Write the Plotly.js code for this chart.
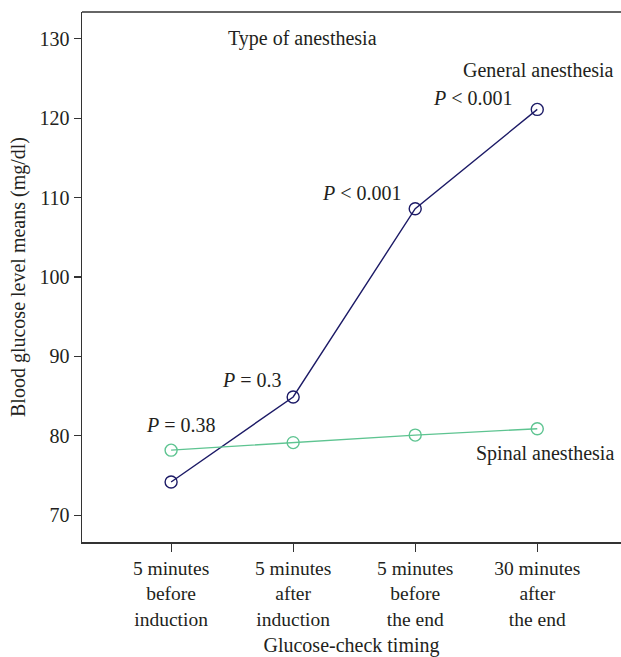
<!DOCTYPE html>
<html>
<head>
<meta charset="utf-8">
<script src="https://cdn.plot.ly/plotly-3.0.1.min.js"></script>
<style>html,body{margin:0;padding:0;overflow:hidden;background:#fff;}</style>
</head>
<body>
<div id="chart" style="width:621px;height:657px;"></div>
<script>
const categories = ["5 minutes<br>before<br>induction", "5 minutes<br>after<br>induction", "5 minutes<br>before<br>the end", "30 minutes<br>after<br>the end"];
const generalValues = [74.2, 84.9, 108.6, 121.1];
const spinalValues = [78.2, 79.15, 80.1, 80.9];
const pLabels = ["<i>P</i> = 0.38", "<i>P</i> = 0.3", "<i>P</i> < 0.001", "<i>P</i> < 0.001"];
const seriesNames = ["General anesthesia", "Spinal anesthesia"];
const yTicks = [70, 80, 90, 100, 110, 120, 130];

const FONT = "Liberation Serif, Times New Roman, serif";
const FS = 20;
const navy = "#1c1a66";
const green = "#5ec491";
const xIdx = categories.map((c, i) => i);

const traces = [
  {x: xIdx, y: generalValues, name: seriesNames[0], mode: "lines+markers",
   line: {color: navy, width: 1.4},
   marker: {symbol: "circle-open", size: 12, color: navy, line: {width: 1.4}}},
  {x: xIdx, y: spinalValues, name: seriesNames[1], mode: "lines+markers",
   line: {color: green, width: 1.4},
   marker: {symbol: "circle-open", size: 12, color: green, line: {width: 1.4}}}
];

// p-label offsets (pixels) relative to each time point
const pAnchor = [spinalValues[0], generalValues[1], generalValues[2], generalValues[3]];
const pShift = [[-27, 25], [-9, 17], [-11, 16], [-22, 11]];
const annotations = pLabels.map((t, i) => ({
  x: xIdx[i], y: pAnchor[i], xref: "x", yref: "y", text: t, showarrow: false,
  xanchor: i === 0 ? "left" : "right", yanchor: "middle",
  xshift: pShift[i][0], yshift: pShift[i][1],
  font: {family: FONT, size: FS, color: "#231f20"}
}));
annotations.push({x: xIdx[3], y: generalValues[3], xref: "x", yref: "y", text: seriesNames[0], showarrow: false,
  xanchor: "right", yanchor: "middle", xshift: 79, yshift: 39, font: {family: FONT, size: FS, color: "#231f20"}});
annotations.push({x: xIdx[3], y: spinalValues[3], xref: "x", yref: "y", text: seriesNames[1], showarrow: false,
  xanchor: "right", yanchor: "middle", xshift: 79, yshift: -25, font: {family: FONT, size: FS, color: "#231f20"}});
annotations.push({x: 0.41, y: 1.0, xref: "paper", yref: "paper", text: "Type of anesthesia", showarrow: false,
  xanchor: "center", yanchor: "middle", yshift: -26, font: {family: FONT, size: FS, color: "#231f20"}});

const layout = {
  width: 621, height: 657,
  margin: {l: 82, r: 0, t: 12, b: 115},
  paper_bgcolor: "#fff", plot_bgcolor: "#fff",
  showlegend: false,
  font: {family: FONT, size: FS, color: "#231f20"},
  xaxis: {
    range: [-0.73, 3.686], tickvals: xIdx, ticktext: categories,
    showgrid: false, zeroline: false, showline: true, linecolor: "#333", linewidth: 1.5,
    ticks: "outside", ticklen: 8, tickcolor: "#333", tickwidth: 1.2,
    tickfont: {family: FONT, size: FS - 0.5, color: "#231f20"},
    title: {text: "Glucose-check timing", font: {family: FONT, size: FS, color: "#231f20"}, standoff: 9}
  },
  yaxis: {
    range: [66.64, 133.36], tickvals: yTicks,
    showgrid: false, zeroline: false, showline: true, linecolor: "#333", linewidth: 1.5,
    ticks: "outside", ticklen: 7, tickcolor: "#333", tickwidth: 1.2,
    tickfont: {family: FONT, size: FS, color: "#231f20"},
    title: {text: "Blood glucose level means (mg/dl)", font: {family: FONT, size: FS, color: "#231f20"}, standoff: 8}
  },
  shapes: [{type: "line", xref: "paper", yref: "paper", x0: 0, x1: 1, y0: 1, y1: 1,
            line: {color: "#333", width: 1.5}}],
  annotations: annotations
};

Plotly.newPlot("chart", traces, layout, {displayModeBar: false, staticPlot: true});
</script>
</body>
</html>
